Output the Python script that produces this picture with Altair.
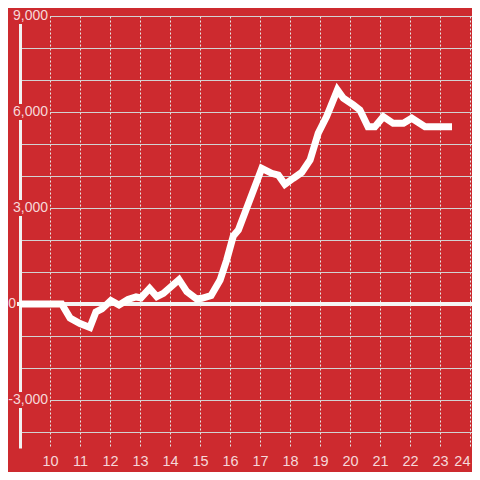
import altair as alt
import pandas as pd

# Line data (hour of day, value)
hours = [9.0, 10.39, 10.67, 11.0, 11.33, 11.53, 11.73, 12.03, 12.3, 12.6, 12.87, 13.03,
         13.32, 13.56, 13.78, 14.3, 14.56, 14.89, 15.06, 15.37, 15.67, 15.89, 16.11, 16.28,
         17.06, 17.39, 17.61, 17.83, 18.11, 18.39, 18.67, 18.94, 19.22, 19.58, 19.78, 20.11,
         20.33, 20.6, 20.83, 21.11, 21.44, 21.78, 22.06, 22.5, 23.4]
values = [0, 0, -440, -610, -735, -250, -155, 110, -30, 140, 220, 190,
          485, 230, 335, 760, 385, 155, 180, 265, 750, 1375, 2125, 2315,
          4240, 4085, 4030, 3740, 3930, 4110, 4500, 5335, 5855, 6690, 6430, 6220,
          6065, 5540, 5540, 5855, 5645, 5645, 5805, 5540, 5540]

x_ticks = list(range(10, 25))
y_grid = list(range(-4000, 9001, 1000))
y_label_values = [9000, 6000, 3000, 0, -3000]
y_label_texts = ["9,000", "6,000", "3,000", "0", "-3,000"]

BG = "#cd2a2f"
LABEL = "#f6d8d9"
W, H = 452, 432

line_df = pd.DataFrame({"hour": hours, "value": values})
lab_df = pd.DataFrame({"value": y_label_values, "text": y_label_texts})

xs = alt.Scale(domain=[9, 9 + W / 30], nice=False, zero=False)
ys = alt.Scale(domain=[-4500, 9000], nice=False)

x_axis = alt.Axis(values=x_ticks, grid=True, gridDash=[2, 2], gridColor="#e6e6e6",
                  gridWidth=1, domain=False, ticks=False, tickSize=0, labelPadding=6,
                  labelFont="Liberation Sans", labelFontSize=14.5, labelColor=LABEL,
                  title=None, labelFlush=False, labelOverlap=False,
                  labelAlign={"condition": {"test": "datum.value >= 24", "value": "right"},
                              "value": "center"})
y_axis = alt.Axis(values=y_grid, grid=True, gridColor="#d2d2d2", gridWidth=1,
                  domain=True, domainColor="#f2f2f2", domainWidth=3,
                  labels=False, ticks=False, title=None)

base = alt.Chart(line_df)

grid = base.mark_line(opacity=0).encode(
    x=alt.X("hour:Q", scale=xs, axis=x_axis),
    y=alt.Y("value:Q", scale=ys, axis=y_axis),
)

zero_rule = alt.Chart(pd.DataFrame({"value": [0]})).mark_rule(
    color="#f5f5f5", strokeWidth=4
).encode(
    y=alt.Y("value:Q", scale=ys, axis=y_axis),
    x=alt.value(-3), x2=alt.value(W),
)

nonzero = alt.Chart(lab_df).transform_filter("datum.value != 0")

boxes = nonzero.transform_calculate(
    lo="datum.value - 250", hi="datum.value + 250"
).mark_rect(color=BG).encode(
    y=alt.Y("lo:Q", scale=ys, axis=y_axis), y2="hi:Q",
    x=alt.value(-12), x2=alt.value(30),
)

labels = nonzero.mark_text(
    align="right", baseline="middle", font="Liberation Sans", fontSize=14, color=LABEL
).encode(
    y=alt.Y("value:Q", scale=ys, axis=y_axis),
    x=alt.value(28),
    text="text:N",
)

zero_label = alt.Chart(lab_df).transform_filter("datum.value == 0").mark_text(
    align="right", baseline="middle", font="Liberation Sans", fontSize=14, color=LABEL
).encode(
    y=alt.Y("value:Q", scale=ys, axis=y_axis),
    x=alt.value(-4),
    text="text:N",
)

line = base.mark_line(color="white", strokeWidth=7, strokeCap="butt").encode(
    x=alt.X("hour:Q", scale=xs, axis=x_axis),
    y=alt.Y("value:Q", scale=ys, axis=y_axis),
)

chart = alt.layer(grid, zero_rule, boxes, labels, zero_label, line).properties(
    width=W, height=H,
    background=BG,
    padding={"left": 12, "top": 8, "right": 0, "bottom": 24},
    autosize=alt.AutoSizeParams(type="none"),
).configure_view(stroke=None)

chart.save("out.html", embed_options={"renderer": "svg", "actions": False})
